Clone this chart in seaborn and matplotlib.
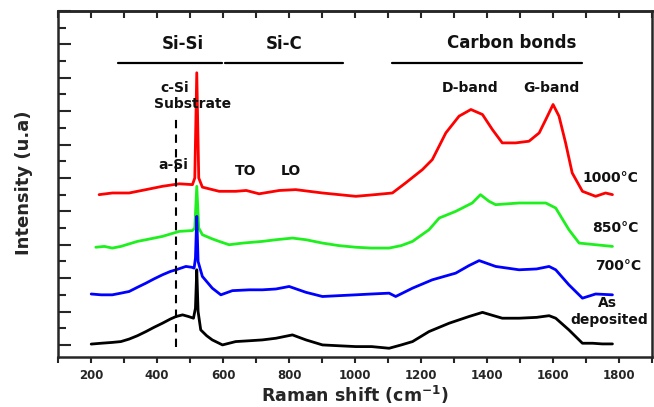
import numpy as np
import pandas as pd
import seaborn as sns
import matplotlib.pyplot as plt
from matplotlib.ticker import MultipleLocator

# Raman spectra (offset stacked, arbitrary units)
x_dep = [200, 230, 264, 290, 315, 340, 366, 390, 416, 440, 457, 477, 495, 510, 516, 520, 524, 532,
         550, 567, 598, 638, 680, 719, 760, 810, 851, 901, 950, 1002, 1050, 1103, 1140, 1174, 1224,
         1285, 1345, 1386, 1420, 1446, 1497, 1550, 1588, 1608, 1648, 1689, 1720, 1749, 1780]
y_dep = [0.05, 0.1, 0.15, 0.2, 0.35, 0.55, 0.8, 1.05, 1.3, 1.55, 1.7, 1.8, 1.7, 1.6, 2.2, 4.5, 2.0, 0.9,
         0.55, 0.3, 0.0, 0.2, 0.25, 0.3, 0.4, 0.6, 0.3, 0.0, -0.05, -0.1, -0.1, -0.2, 0.0, 0.2, 0.8,
         1.3, 1.7, 1.95, 1.75, 1.6, 1.6, 1.65, 1.75, 1.6, 0.9, 0.1, 0.1, 0.06, 0.06]

x_700 = [200, 230, 264, 290, 315, 340, 366, 390, 416, 440, 457, 487, 505, 512, 516, 520, 524, 537,
         567, 593, 628, 680, 719, 760, 800, 851, 901, 950, 1002, 1050, 1103, 1123, 1174, 1234, 1305,
         1345, 1376, 1426, 1497, 1550, 1588, 1608, 1648, 1689, 1729, 1780]
y_700 = [3.05, 3.0, 3.0, 3.1, 3.2, 3.45, 3.7, 3.95, 4.2, 4.4, 4.5, 4.7, 4.65, 4.6, 5.2, 7.7, 5.0, 4.1,
         3.4, 3.0, 3.25, 3.3, 3.3, 3.35, 3.5, 3.15, 2.9, 2.95, 3.0, 3.05, 3.1, 2.9, 3.4, 3.9, 4.3,
         4.75, 5.05, 4.7, 4.5, 4.55, 4.7, 4.5, 3.6, 2.8, 3.05, 3.0]

x_850 = [214, 240, 264, 290, 315, 340, 366, 416, 467, 507, 514, 520, 526, 537, 567, 588, 618, 660,
         719, 760, 810, 851, 901, 950, 1002, 1050, 1103, 1140, 1174, 1224, 1255, 1305, 1355, 1380,
         1406, 1426, 1497, 1578, 1608, 1648, 1679, 1729, 1780]
y_850 = [5.85, 5.9, 5.8, 5.9, 6.05, 6.2, 6.3, 6.5, 6.8, 6.85, 7.0, 9.5, 7.0, 6.6, 6.35, 6.2, 6.0, 6.1,
         6.2, 6.3, 6.4, 6.3, 6.1, 5.95, 5.85, 5.8, 5.8, 5.95, 6.2, 6.9, 7.6, 8.0, 8.5, 9.0,
         8.6, 8.4, 8.5, 8.5, 8.2, 6.9, 6.1, 6.0, 5.9]

x_1000 = [224, 264, 315, 366, 416, 467, 507, 514, 520, 526, 537, 588, 638, 670, 709, 770, 820, 901,
          1002, 1060, 1113, 1153, 1204, 1234, 1275, 1315, 1351, 1386, 1416, 1446, 1487, 1527, 1558,
          1578, 1600, 1618, 1638, 1658, 1689, 1729, 1759, 1780]
y_1000 = [9.0, 9.1, 9.1, 9.3, 9.5, 9.65, 9.6, 10.0, 16.3, 10.0, 9.45, 9.2, 9.2, 9.25, 9.05, 9.25, 9.3, 9.1,
          8.9, 9.0, 9.1, 9.7, 10.5, 11.1, 12.7, 13.7, 14.1, 13.8, 12.9, 12.1, 12.1, 12.2, 12.7,
          13.5, 14.4, 13.7, 12.1, 10.3, 9.2, 8.9, 9.1, 9.0]

samples = ["1000°C", "850°C", "700°C", "As deposited"]
colors = ["#ff0000", "#1ef01e", "#0000ff", "#000000"]

frames = []
for name, xs, ys in zip(samples, [x_1000, x_850, x_700, x_dep], [y_1000, y_850, y_700, y_dep]):
    frames.append(pd.DataFrame({"shift": xs, "intensity": ys, "sample": name}))
df = pd.concat(frames, ignore_index=True)

sns.set_style("ticks")
plt.rcParams["font.family"] = ["DejaVu Sans"]
plt.rcParams["font.weight"] = "bold"

fig = plt.figure(figsize=(6.54, 4.07), dpi=100)
ax = fig.add_axes([0.089, 0.123, 0.908, 0.850])

sns.lineplot(data=df, x="shift", y="intensity", hue="sample", hue_order=samples,
             palette=colors, estimator=None, linewidth=2.0, legend=False, ax=ax)

# dashed a-Si marker
ax.plot([457, 457], [-0.1, 13.8], ls=(0, (4, 3)), color="black", lw=1.5)

# band group lines and labels
ax.plot([280, 596], [16.9, 16.9], color="black", lw=1.6)
ax.plot([606, 962], [16.9, 16.9], color="black", lw=1.6)
ax.plot([1113, 1689], [16.9, 16.9], color="black", lw=1.6)
big = dict(fontsize=12, fontweight="bold", ha="center", va="center", color="#111111")
small = dict(fontsize=10, fontweight="bold", ha="center", va="center", color="#111111")
ax.text(477, 18.0, "Si-Si", **big)
ax.text(785, 18.0, "Si-C", **big)
ax.text(1475, 18.1, "Carbon bonds", **big)
ax.text(452, 15.4, "c-Si", **small)
ax.text(507, 14.4, "Substrate", **small)
ax.text(448, 10.8, "a-Si", **small)
ax.text(669, 10.4, "TO", **small)
ax.text(805, 10.4, "LO", **small)
ax.text(1347, 15.4, "D-band", **small)
ax.text(1596, 15.4, "G-band", **small)
ax.text(1775, 10.0, "1000°C", **small)
ax.text(1790, 7.0, "850°C", **small)
ax.text(1798, 4.7, "700°C", **small)
ax.text(1765, 2.5, "As", **small)
ax.text(1770, 1.5, "deposited", **small)

ax.set_xlim(100, 1900)
ax.set_ylim(-0.72, 20.0)
ax.xaxis.set_major_locator(MultipleLocator(200))
ax.xaxis.set_minor_locator(MultipleLocator(100))
ax.yaxis.set_major_locator(MultipleLocator(2))
ax.yaxis.set_minor_locator(MultipleLocator(1))
ax.tick_params(axis="x", which="major", direction="out", length=4, width=1.5, labelsize=8.5, pad=5)
ax.tick_params(axis="x", which="minor", direction="out", length=4, width=1.5)
ax.tick_params(axis="y", which="major", direction="in", length=9, width=1.5, labelleft=False)
ax.tick_params(axis="y", which="minor", direction="in", length=6, width=1.5)
for lbl in ax.get_xticklabels():
    lbl.set_fontweight("bold")

top = ax.secondary_xaxis("top")
top.xaxis.set_major_locator(MultipleLocator(200))
top.xaxis.set_minor_locator(MultipleLocator(100))
top.tick_params(which="both", direction="in", length=5, width=1.5, labeltop=False)

for sp in ax.spines.values():
    sp.set_linewidth(1.8)
top.spines["top"].set_linewidth(1.8)

ax.set_xlabel("Raman shift (cm$^{\\mathbf{-1}}$)", fontsize=12.5, fontweight="bold")
ax.xaxis.set_label_coords(0.5, -0.078)
ax.set_ylabel("Intensity (u.a)", fontsize=13, fontweight="bold")
ax.yaxis.set_label_coords(-0.042, 0.504)

fig.savefig("out.png", dpi=100)
